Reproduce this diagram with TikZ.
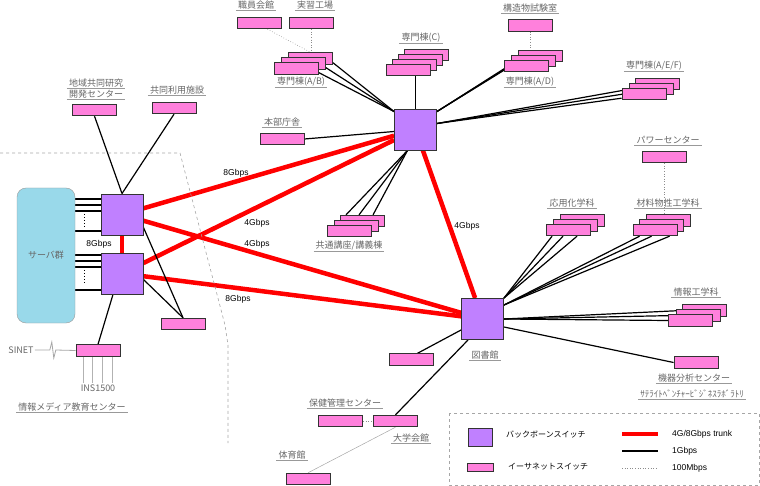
\documentclass[tikz,border=0pt]{standalone}
\usepackage{fontspec}
\setmainfont{Liberation Sans}
\newfontfamily\jp{Noto Sans CJK JP}
\usetikzlibrary{calc,backgrounds}

\definecolor{bbfill}{RGB}{192,128,255}
\definecolor{esfill}{RGB}{255,128,220}
\definecolor{srvfill}{RGB}{153,217,234}

\begin{document}
\begin{tikzpicture}[x=1pt,y=-1pt,
  bb/.style={draw=black!80,line width=0.9pt,fill=bbfill,minimum width=42pt,minimum height=41pt,inner sep=0pt},
  es/.style={draw=black!80,line width=0.9pt,fill=esfill,minimum width=44pt,minimum height=11.5pt,inner sep=0pt},
  lbl/.style={font=\jp\fontsize{9}{10}\selectfont,text=black!60,inner xsep=2pt,inner ysep=1pt,
    append after command={(\tikzlastnode.south west) edge[draw=black!40,line width=1pt] (\tikzlastnode.south east)}},
  txt/.style={font=\jp\fontsize{9}{10}\selectfont,text=black!60,inner sep=1pt},
  rate/.style={font=\fontsize{8.5}{10}\selectfont,inner sep=1pt},
  lgtxt/.style={font=\jp\fontsize{8}{10}\selectfont,anchor=west,inner sep=1pt},
  trunk/.style={red,line width=4.5pt},
  gig/.style={black,line width=1.2pt},
  fast/.style={black!45,line width=0.6pt,dotted}]
\useasboundingbox (0,0) rectangle (760,486);

\draw[black!35,dashed,line width=0.6pt] (0,153) -- (180,153) -- (225,325) -- (228,345) -- (228,443);

\node[bb] (bb_m) at (415.5,129.5) {};
\node[bb] (bb_a) at (122,214.5) {};
\node[bb] (bb_b) at (122,273.5) {};
\node[bb] (bb_l) at (482.5,319) {};

\node[draw=black!40,fill=srvfill,rounded corners=9pt,minimum width=58pt,minimum height=135pt,
  text=black!60,font=\jp\fontsize{9}{10}\selectfont] (srv) at (46,255.5) {サーバ群};

\node[es] (chiiki) at (94.5,110) {};
\node[es] (kyodo) at (174,108) {};
\node[es] (sub_a) at (183,324) {};
\node[es] (media) at (98,350.5) {};
\node[es] (shokuin) at (259.5,23) {};
\node[es] (jisshu) at (311.5,23) {};
\foreach \k/\x/\y in {3/310.5/58.5,2/303.5/63.5,1/296.5/68.5}
  \node[es] (ab_\k) at (\x,\y) {};
\foreach \k/\x/\y in {4/426.5/55,3/420.5/60,2/414.5/65,1/408.5/70}
  \node[es] (cc_\k) at (\x,\y) {};
\node[es] (kozo) at (530.5,25.5) {};
\foreach \k/\x/\y in {3/540/56,2/533.5/61,1/526.5/66}
  \node[es] (ad_\k) at (\x,\y) {};
\foreach \k/\x/\y in {3/657.5/84,2/651/89,1/644/94}
  \node[es] (aef_\k) at (\x,\y) {};
\node[es] (honbu) at (282,139) {};
\foreach \k/\x/\y in {3/362.5/221,2/356/226,1/349.5/231}
  \node[es] (kyo_\k) at (\x,\y) {};
\foreach \k/\x/\y in {3/582/220.5,2/575.5/225.5,1/568.5/230}
  \node[es] (oka_\k) at (\x,\y) {};
\node[es] (power) at (664,157) {};
\foreach \k/\x/\y in {3/668.5/220.5,2/661.5/225.5,1/655/230}
  \node[es] (zai_\k) at (\x,\y) {};
\foreach \k/\x/\y in {3/704.5/310.5,2/698/315.5,1/690.5/320.5}
  \node[es] (jo_\k) at (\x,\y) {};
\node[es] (kiki) at (696,362.5) {};
\node[es] (sub_l) at (411.5,359.5) {};
\node[es] (daigaku) at (395.5,421) {};
\node[es] (hoken) at (340.5,421) {};
\node[es] (taiiku) at (308,479) {};

\node[lbl] (l_chiiki1) at (96,83) {地域共同研究};
\node[lbl] (l_chiiki2) at (96,94) {開発センター};
\node[lbl] (l_kyodo) at (177,90) {共同利用施設};
\node[lbl] (l_shokuin) at (256,5) {職員会館};
\node[lbl] (l_jisshu) at (315,5) {実習工場};
\node[lbl] (l_ab) at (301,82) {専門棟(A/B)};
\node[lbl] (l_cc) at (421,38) {専門棟(C)};
\node[lbl] (l_kozo) at (530,8) {構造物試験室};
\node[lbl] (l_ad) at (530,82) {専門棟(A/D)};
\node[lbl] (l_aef) at (654,66) {専門棟(A/E/F)};
\node[lbl] (l_honbu) at (282,122) {本部庁舎};
\node[lbl] (l_kyo) at (349,246) {共通講座/講義棟};
\node[lbl] (l_oka) at (572,203) {応用化学科};
\node[lbl] (l_zai) at (668,203) {材料物性工学科};
\node[lbl] (l_power) at (668,140) {パワーセンター};
\node[lbl] (l_jo) at (696,292) {情報工学科};
\node[lbl] (l_kiki) at (694,378) {機器分析センター};
\node[lbl] (l_sat) at (692,394) {ｻﾃﾗｲﾄﾍﾞﾝﾁｬｰﾋﾞｼﾞﾈｽﾗﾎﾞﾗﾄﾘ};
\node[lbl] (l_lib) at (485,355) {図書館};
\node[lbl] (l_hoken) at (345,403) {保健管理センター};
\node[lbl] (l_daigaku) at (411,438) {大学会館};
\node[lbl] (l_taiiku) at (292,455) {体育館};
\node[lbl] (l_media) at (72,407) {情報メディア教育センター};
\node[txt] (sinet) at (21,350) {SINET};
\node[txt] (ins) at (98,388) {INS1500};

\node[rate] (r_am) at (236,173) {8Gbps};
\node[rate] (r_bm) at (257,223) {4Gbps};
\node[rate] (r_al) at (257,244) {4Gbps};
\node[rate] (r_bl) at (238,299) {8Gbps};
\node[rate] (r_ml) at (467,226) {4Gbps};
\node[rate] (r_ab) at (99,244) {8Gbps};

\begin{scope}[on background layer]
\draw[trunk] (bb_a) -- (bb_b);
\draw[trunk] (bb_a) -- (bb_m);
\draw[trunk] (bb_a) -- (bb_l);
\draw[trunk] (bb_b) -- (bb_m);
\draw[trunk] (bb_b) -- (bb_l);
\draw[trunk] (bb_m) -- (bb_l);

\foreach \y in {199,205,211,231}
  \draw[gig] (srv.east |- 0,\y) -- (bb_a.west |- 0,\y);
\foreach \y in {255,261,267,290}
  \draw[gig] (srv.east |- 0,\y) -- (bb_b.west |- 0,\y);
\draw[gig] (chiiki.south) -- (bb_a.north);
\draw[gig] (kyodo.south) -- (bb_a.north);
\draw[gig] ($(bb_a.south east)+(0,-8)$) -- (sub_a.north);
\draw[gig] ($(bb_b.east)+(0,6)$) -- (sub_a.north);
\draw[gig] ($(bb_b.south)+(-9,0)$) -- (media.north);

\foreach \k in {1,2,3}
  \draw[gig] ($(ab_\k.south east)+(0,-2)$) -- ($(bb_m.north west)+(0,3)$);
\draw[gig] (cc_1.south -| bb_m.north) -- (bb_m.north);
\foreach \k in {1,2,3}
  \draw[gig] ($(ad_\k.south west)+(0,-2)$) -- ($(bb_m.north east)+(0,3)$);
\foreach \k in {1,2,3}
  \draw[gig] ($(aef_\k.south west)+(0,-2)$) -- ($(bb_m.east)+(0,-6)$);
\draw[gig] (honbu.east) -- ($(bb_m.west)+(0,2)$);
\foreach \dx in {6,19,33}
  \draw[gig] ($(kyo_3.north west)+(\dx,0)$) -- ($(bb_m.south)+(-8,0)$);

\foreach \dx in {6,17,31}
  \draw[gig] ($(oka_1.south west)+(\dx,0)$) -- (bb_l.north east);
\foreach \dx in {7,19,37}
  \draw[gig] ($(zai_1.south west)+(\dx,0)$) -- ($(bb_l.east)+(0,-14)$);
\foreach \k in {1,2,3}
  \draw[gig] (jo_\k.west) -- (bb_l.east);
\draw[gig] (kiki.west) -- ($(bb_l.east)+(0,8)$);
\draw[gig] ($(sub_l.north)+(6,0)$) -- ($(bb_l.west)+(0,11)$);
\draw[gig] (daigaku.north) -- ($(bb_l.south west)+(7,0)$);

\draw[fast] ($(shokuin.south)+(8,0)$) -- (ab_3.north);
\draw[fast] (jisshu.south) -- (jisshu.south |- ab_3.north);
\draw[fast] (kozo.south) -- (kozo.south |- ad_3.north);
\draw[fast] (power.south) -- (power.south |- zai_3.north);
\draw[fast] (hoken.east) -- (daigaku.west);
\draw[black!35,line width=0.5pt] (taiiku.north) -- (daigaku.south);

\draw[black!35,line width=0.8pt] (sinet.east) -- ++(15,0) -- ++(2,-8) -- ++(2,16) -- ++(2,-8) -- (media.west);
\foreach \dx in {-15,-6,4,14}
  \draw[black!30,line width=0.8pt] ($(media.south)+(\dx,0)$) -- ($(ins.north)+(\dx,0)$);
\end{scope}

\draw[dotted,line width=1pt] (84,214) -- (84,228);
\draw[dotted,line width=1pt] (84,270) -- (84,284);

\draw[black!35,dashed,line width=0.6pt] (449,413) rectangle (759,485);
\node[bb,minimum width=24pt,minimum height=18pt] (lg_bb) at (480,437) {};
\node[es,minimum width=26pt,minimum height=8pt] (lg_es) at (480,467) {};
\node[lgtxt] (lg_bbt) at (505,435) {バックボーンスイッチ};
\node[lgtxt] (lg_est) at (507,467) {イーサネットスイッチ};
\node[rate,anchor=west] (lg_tr) at (671,434) {4G/8Gbps trunk};
\node[rate,anchor=west] (lg_g) at (671,451) {1Gbps};
\node[rate,anchor=west] (lg_f) at (671,468) {100Mbps};
\draw[trunk] ($(lg_tr.west)+(-49,0)$) -- ++(36,0);
\draw[gig] ($(lg_g.west)+(-49,0)$) -- ++(36,0);
\draw[fast] ($(lg_f.west)+(-49,0)$) -- ++(36,0);
\end{tikzpicture}
\end{document}
